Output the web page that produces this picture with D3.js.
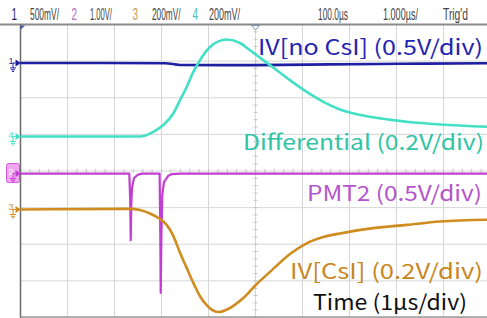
<!DOCTYPE html>
<html><head><meta charset="utf-8">
<script src="https://cdn.jsdelivr.net/npm/d3@7/dist/d3.min.js"></script>
<style>html,body{margin:0;padding:0;background:#fff;overflow:hidden}</style>
</head><body>
<svg id="c" width="487" height="318"></svg>
<script>
// ---------------- data (time in µs, values in volts) ----------------
const ch1Time  = [-5, -1.926, -1.606, -0.117, 1.585, 3.074, 4.99];
const ch1Volts = [0, -0.004, -0.027, -0.030, -0.020, -0.011, -0.004];

const ch4Time  = [-5, -2.457, -2.174, -1.962, -1.749, -1.606, -1.464, -1.323, -1.181, -0.968, -0.613, -0.330, -0.117, 0.309, 0.734, 1.089, 1.443, 1.798, 2.506, 3.217, 3.926, 4.99];
const ch4Volts = [0, 0, 0.026, 0.063, 0.126, 0.199, 0.271, 0.353, 0.417, 0.489, 0.530, 0.511, 0.471, 0.390, 0.308, 0.244, 0.190, 0.148, 0.105, 0.081, 0.066, 0.053];

const ch2Time  = [-5, -2.685, -2.666, -2.655, -2.643, -2.628, -2.585, -2.500, -2.415, -2.040, -2.028, -2.017, -2.002, -1.983, -1.947, -1.862, -1.777, -1.606, 4.99];
const ch2Volts = [0, 0, -0.362, -0.909, -0.430, -0.198, -0.061, -0.014, 0, 0, -0.635, -1.628, -0.840, -0.294, -0.116, -0.034, -0.007, 0, 0];

const ch3Time  = [-5, -2.670, -2.457, -2.245, -2.032, -1.889, -1.749, -1.606, -1.464, -1.323, -1.181, -1.038, -0.926, -0.791, -0.543, -0.260, 0.011, 0.309, 0.734, 1.089, 1.443, 1.798, 2.506, 3.217, 3.926, 4.99];
const ch3Volts = [0, 0.003, -0.003, -0.022, -0.052, -0.084, -0.144, -0.237, -0.319, -0.401, -0.474, -0.523, -0.548, -0.560, -0.538, -0.484, -0.411, -0.341, -0.243, -0.185, -0.151, -0.131, -0.102, -0.084, -0.066, -0.056];

// channel settings: ch1, ch2, ch3, ch4
const voltsPerDiv = [0.5, 0.5, 0.2, 0.2];
const offsetDiv   = [2.95, -0.07, -1.05, 0.94];
const traceColors = ["#1f1fa3", "#c23ed2", "#d08c1e", "#42e0c4"];

const headerTexts = ["1", "500mV/", "2", "1.00V/", "3", "200mV/", "4", "200mV/", "100.0µs", "1.000µs/", "Trig'd"];
const labelTexts = ["IV[no CsI] (0.5V/div)", "Differential (0.2V/div)", "PMT2 (0.5V/div)", "IV[CsI] (0.2V/div)", "Time (1μs/div)"];

// ---------------- drawing ----------------
const svg = d3.select("#c");
const x = d3.scaleLinear().domain([-5, 5]).range([20.5, 490.5]);
const y = d3.scaleLinear().domain([-4, 4]).range([317.5, 24.5]);

svg.append("rect").attr("width", 487).attr("height", 318).attr("fill", "#fff");

// grid
const g = svg.append("g");
g.selectAll(".vg").data(d3.range(-4, 6)).enter().append("line")
  .attr("x1", d => x(d)).attr("x2", d => x(d))
  .attr("y1", y(4)).attr("y2", y(-4))
  .attr("stroke", "#d6d6d6").attr("stroke-width", 1);
g.selectAll(".hg").data(d3.range(-4, 4)).enter().append("line")
  .attr("x1", x(-5)).attr("x2", 487)
  .attr("y1", d => y(d)).attr("y2", d => y(d))
  .attr("stroke", "#d6d6d6").attr("stroke-width", 1);
// minor ticks on centre lines
g.selectAll(".vt").data(d3.range(-4, 4.01, 0.2)).enter().append("line")
  .attr("x1", x(0) - 2).attr("x2", x(0) + 2)
  .attr("y1", d => y(d)).attr("y2", d => y(d))
  .attr("stroke", "#c4c4c4").attr("stroke-width", 1);
g.selectAll(".ht").data(d3.range(-5, 5.01, 0.2)).enter().append("line")
  .attr("x1", d => x(d)).attr("x2", d => x(d))
  .attr("y1", y(0) - 2).attr("y2", y(0) + 2)
  .attr("stroke", "#c4c4c4").attr("stroke-width", 1);

// borders
svg.append("line").attr("x1", 0).attr("x2", 487).attr("y1", 24.5).attr("y2", 24.5)
  .attr("stroke", "#8a8a8a").attr("stroke-width", 2);
svg.append("line").attr("x1", x(-5)).attr("x2", x(-5)).attr("y1", 24.5).attr("y2", 318)
  .attr("stroke", "#6a6a6a").attr("stroke-width", 1.5);
svg.append("line").attr("x1", x(-5)).attr("x2", 487).attr("y1", 317).attr("y2", 317)
  .attr("stroke", "#9a9a9a").attr("stroke-width", 1.5);

// trigger markers
svg.append("path").attr("d", `M${x(-5)},25.5 L${x(-5)+4.5},25.5 L${x(-5)},30 Z`).attr("fill", "#3a5aa8");
svg.append("path").attr("d", `M${x(0)-4},25.5 L${x(0)+4},25.5 L${x(0)},30 Z`)
  .attr("fill", "#fff").attr("stroke", "#7a96b8").attr("stroke-width", 1);

function trace(times, volts, ch, curve, width) {
  const pts = times.map((t, i) => [t, volts[i]]);
  const line = d3.line()
    .x(d => x(d[0]))
    .y(d => y(offsetDiv[ch] + d[1] / voltsPerDiv[ch]))
    .curve(curve);
  svg.append("path").datum(pts).attr("d", line)
    .attr("fill", "none").attr("stroke", traceColors[ch])
    .attr("stroke-width", width).attr("stroke-linejoin", "round");
}
trace(ch1Time, ch1Volts, 0, d3.curveMonotoneX, 2.6);
trace(ch4Time, ch4Volts, 3, d3.curveMonotoneX, 2.6);
trace(ch2Time, ch2Volts, 1, d3.curveLinear, 2.2);
trace(ch3Time, ch3Volts, 2, d3.curveMonotoneX, 2.6);

// channel reference markers
function marker(ch, label) {
  const by = y(offsetDiv[ch]);
  const c = traceColors[ch];
  const m = svg.append("g");
  if (ch === 1) {
    m.append("rect").attr("x", 6.5).attr("y", by - 10).attr("width", 13).attr("height", 19)
      .attr("rx", 2).attr("fill", "#f3a4f3").attr("stroke", c).attr("stroke-width", 0.8);
  }
  m.append("text").attr("x", 8.5).attr("y", by + 1).attr("font-size", 9)
    .attr("font-family", "Liberation Sans, Arial, sans-serif")
    .attr("fill", ch === 1 ? "#fff" : c).text(label);
  m.append("path").attr("d", `M15.5,${by-3.5} L15.5,${by+3.5} L21,${by} Z`).attr("fill", c);
  m.append("path").attr("d", `M13,${by} L15.5,${by} M13,${by} L13,${by+5} M10,${by+5} L16,${by+5} M11,${by+6.8} L15,${by+6.8} M12,${by+8.5} L14,${by+8.5}`)
    .attr("stroke", c).attr("stroke-width", 1).attr("fill", "none");
}
marker(0, "1"); marker(3, "4"); marker(1, "2"); marker(2, "3");

// header (condensed scope font: scale each text horizontally to its width)
const hdrX = [11.5, 30, 71.5, 90, 132.5, 152, 192.5, 209, 318, 383, 443];
const hdrW = [0, 29, 0, 22, 0, 28.5, 0, 31, 30, 35, 25];
const hdrC = ["#1c1c70", "#444", "#b468c4", "#444", "#c8a050", "#444", "#45c4c4", "#444", "#444", "#444", "#444"];
headerTexts.forEach((t, i) => {
  const el = svg.append("text")
    .attr("font-family", "Liberation Sans, Arial, sans-serif").attr("font-size", 16)
    .attr("fill", hdrC[i]).text(t);
  let sx = 0.62;
  if (hdrW[i] > 0) sx = hdrW[i] / el.node().getComputedTextLength();
  el.attr("transform", `translate(${hdrX[i]},19.5) scale(${sx},1)`);
});

// labels
const lblX = [258, 243, 307, 290, 313];
const lblY = [55, 149.5, 200.5, 278.5, 309.5];
const lblW = [225, 241, 175, 193, 154];
const lblC = ["#2424b2", "#2fc4a4", "#b455cc", "#c8871e", "#111"];
labelTexts.forEach((t, i) => {
  svg.append("text").attr("x", lblX[i]).attr("y", lblY[i])
    .attr("font-family", "'Noto Sans CJK JP', 'Noto Sans', sans-serif").attr("font-size", 21)
    .attr("fill", lblC[i]).attr("textLength", lblW[i]).attr("lengthAdjust", "spacingAndGlyphs")
    .text(t);
});
</script>
</body></html>
